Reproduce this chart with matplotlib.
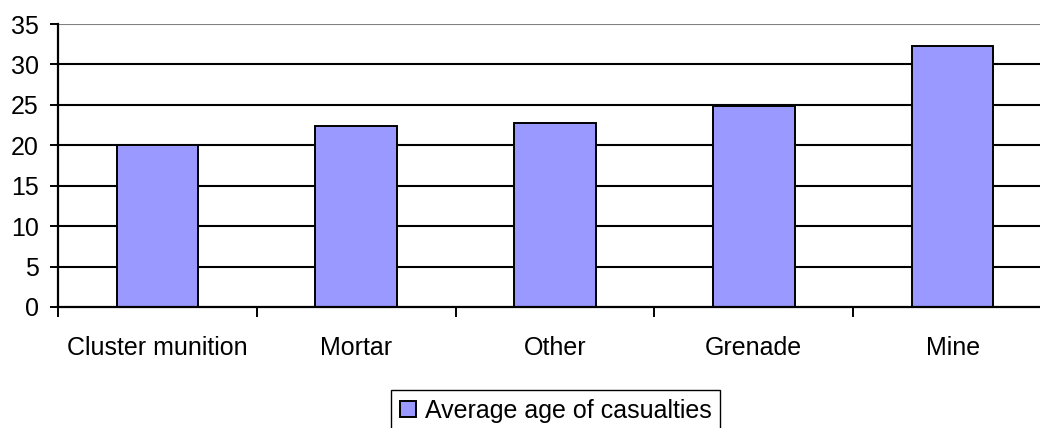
import numpy as np
import matplotlib
matplotlib.use('Agg')
from matplotlib import pyplot as plt
from matplotlib.ticker import FixedLocator

# data
categories = ['Cluster munition', 'Mortar', 'Other', 'Grenade', 'Mine']
avg_age = [20.0, 22.4, 22.7, 24.9, 32.3]
y_ticks = [0, 5, 10, 15, 20, 25, 30, 35]

plt.rcParams['font.family'] = ['Liberation Sans', 'DejaVu Sans']

W, H = 1040, 428
fig = plt.figure(figsize=(W / 100, H / 100), dpi=100)
# axes runs past the right edge like the original (clipped)
ax = fig.add_axes([58 / W, (H - 307) / H, 994 / W, 283 / H])

x = np.arange(len(categories))
bars = ax.bar(x, avg_age, width=0.41, color='#9999ff', edgecolor='black',
              linewidth=1.4, zorder=3, label='Average age of casualties')

ax.set_xlim(-0.5, len(categories) - 0.5)
ax.set_ylim(0, 35)

# horizontal grid, top line grey
for v in y_ticks[1:]:
    ax.axhline(v, color='#808080' if v == 35 else 'black', lw=1.5, zorder=1)

ax.spines['top'].set_visible(False)
ax.spines['right'].set_visible(False)
ax.spines['left'].set_linewidth(1.6)
ax.spines['bottom'].set_linewidth(1.6)
ax.spines['left'].set_zorder(4)
ax.spines['bottom'].set_zorder(4)

ax.set_yticks(y_ticks)
ax.tick_params(axis='y', direction='out', length=6, width=1.4, pad=8, labelsize=18)

# ticks between categories, labels at centres
ax.xaxis.set_major_locator(FixedLocator(np.arange(-0.5, len(categories) - 0.5, 1)))
ax.xaxis.set_major_formatter(plt.NullFormatter())
ax.xaxis.set_minor_locator(FixedLocator(x))
ax.set_xticklabels(categories, minor=True)
ax.tick_params(axis='x', which='major', direction='out', length=7, width=1.4)
ax.tick_params(axis='x', which='minor', length=0, pad=21, labelsize=18)

fig.legend(handles=[bars], loc='upper left',
           bbox_to_anchor=(391 / W, 1 - 390 / H), fontsize=18,
           frameon=True, fancybox=False, edgecolor='black', framealpha=1,
           handlelength=0.65, handleheight=0.65, handletextpad=0.35,
           borderpad=0.35, borderaxespad=0)

fig.savefig('out.png', dpi=100)
